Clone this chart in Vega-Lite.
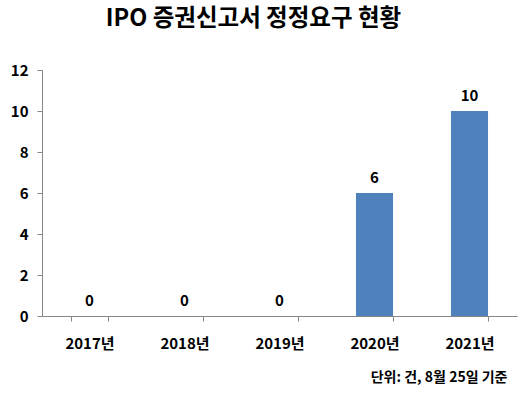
{
  "$schema": "https://vega.github.io/schema/vega-lite/v6.json",
  "autosize": "none",
  "width": 475,
  "height": 246,
  "padding": {"left": 42, "top": 70, "right": 13, "bottom": 79},
  "background": "white",
  "config": {
    "font": "Noto Sans CJK KR",
    "view": {"stroke": null}
  },
  "title": {
    "text": "IPO 증권신고서 정정요구 현황",
    "fontSize": 23.5,
    "fontWeight": "bold",
    "color": "#000000",
    "anchor": "middle",
    "frame": "group",
    "dx": -26,
    "offset": 33,
    "font": "Noto Sans CJK KR"
  },
  "data": {
    "values": [
      {"year": "2017년", "count": 0},
      {"year": "2018년", "count": 0},
      {"year": "2019년", "count": 0},
      {"year": "2020년", "count": 6},
      {"year": "2021년", "count": 10}
    ]
  },
  "encoding": {
    "x": {
      "field": "year",
      "type": "nominal",
      "sort": null,
      "scale": {"paddingInner": 0.61, "paddingOuter": 0.305},
      "axis": {
        "title": "단위: 건, 8월 25일 기준",
        "titleAnchor": "end",
        "titleAlign": "right",
        "titleFontSize": 14,
        "titleFontWeight": "bold",
        "titleColor": "#000000",
        "titlePadding": 19,
        "titleX": 465,
        "labelAngle": 0,
        "labelFontSize": 15,
        "labelFontWeight": "bold",
        "labelColor": "#000000",
        "labelPadding": 15,
        "bandPosition": 0,
        "tickBand": "extent",
        "tickColor": "#868686",
        "tickSize": 5,
        "domainColor": "#868686",
        "grid": false
      }
    },
    "y": {
      "field": "count",
      "type": "quantitative",
      "scale": {"domain": [0, 12], "nice": false},
      "axis": {
        "title": null,
        "values": [0, 2, 4, 6, 8, 10, 12],
        "labelFontSize": 15,
        "labelFontWeight": "bold",
        "labelColor": "#000000",
        "labelPadding": 9,
        "tickColor": "#868686",
        "tickSize": 5,
        "domainColor": "#868686",
        "grid": false
      }
    }
  },
  "layer": [
    {"mark": {"type": "bar", "color": "#4F81BD"}},
    {
      "mark": {"type": "text", "dy": -15, "fontSize": 15, "fontWeight": "bold", "color": "#000000"},
      "encoding": {"text": {"field": "count", "type": "quantitative"}}
    }
  ]
}
